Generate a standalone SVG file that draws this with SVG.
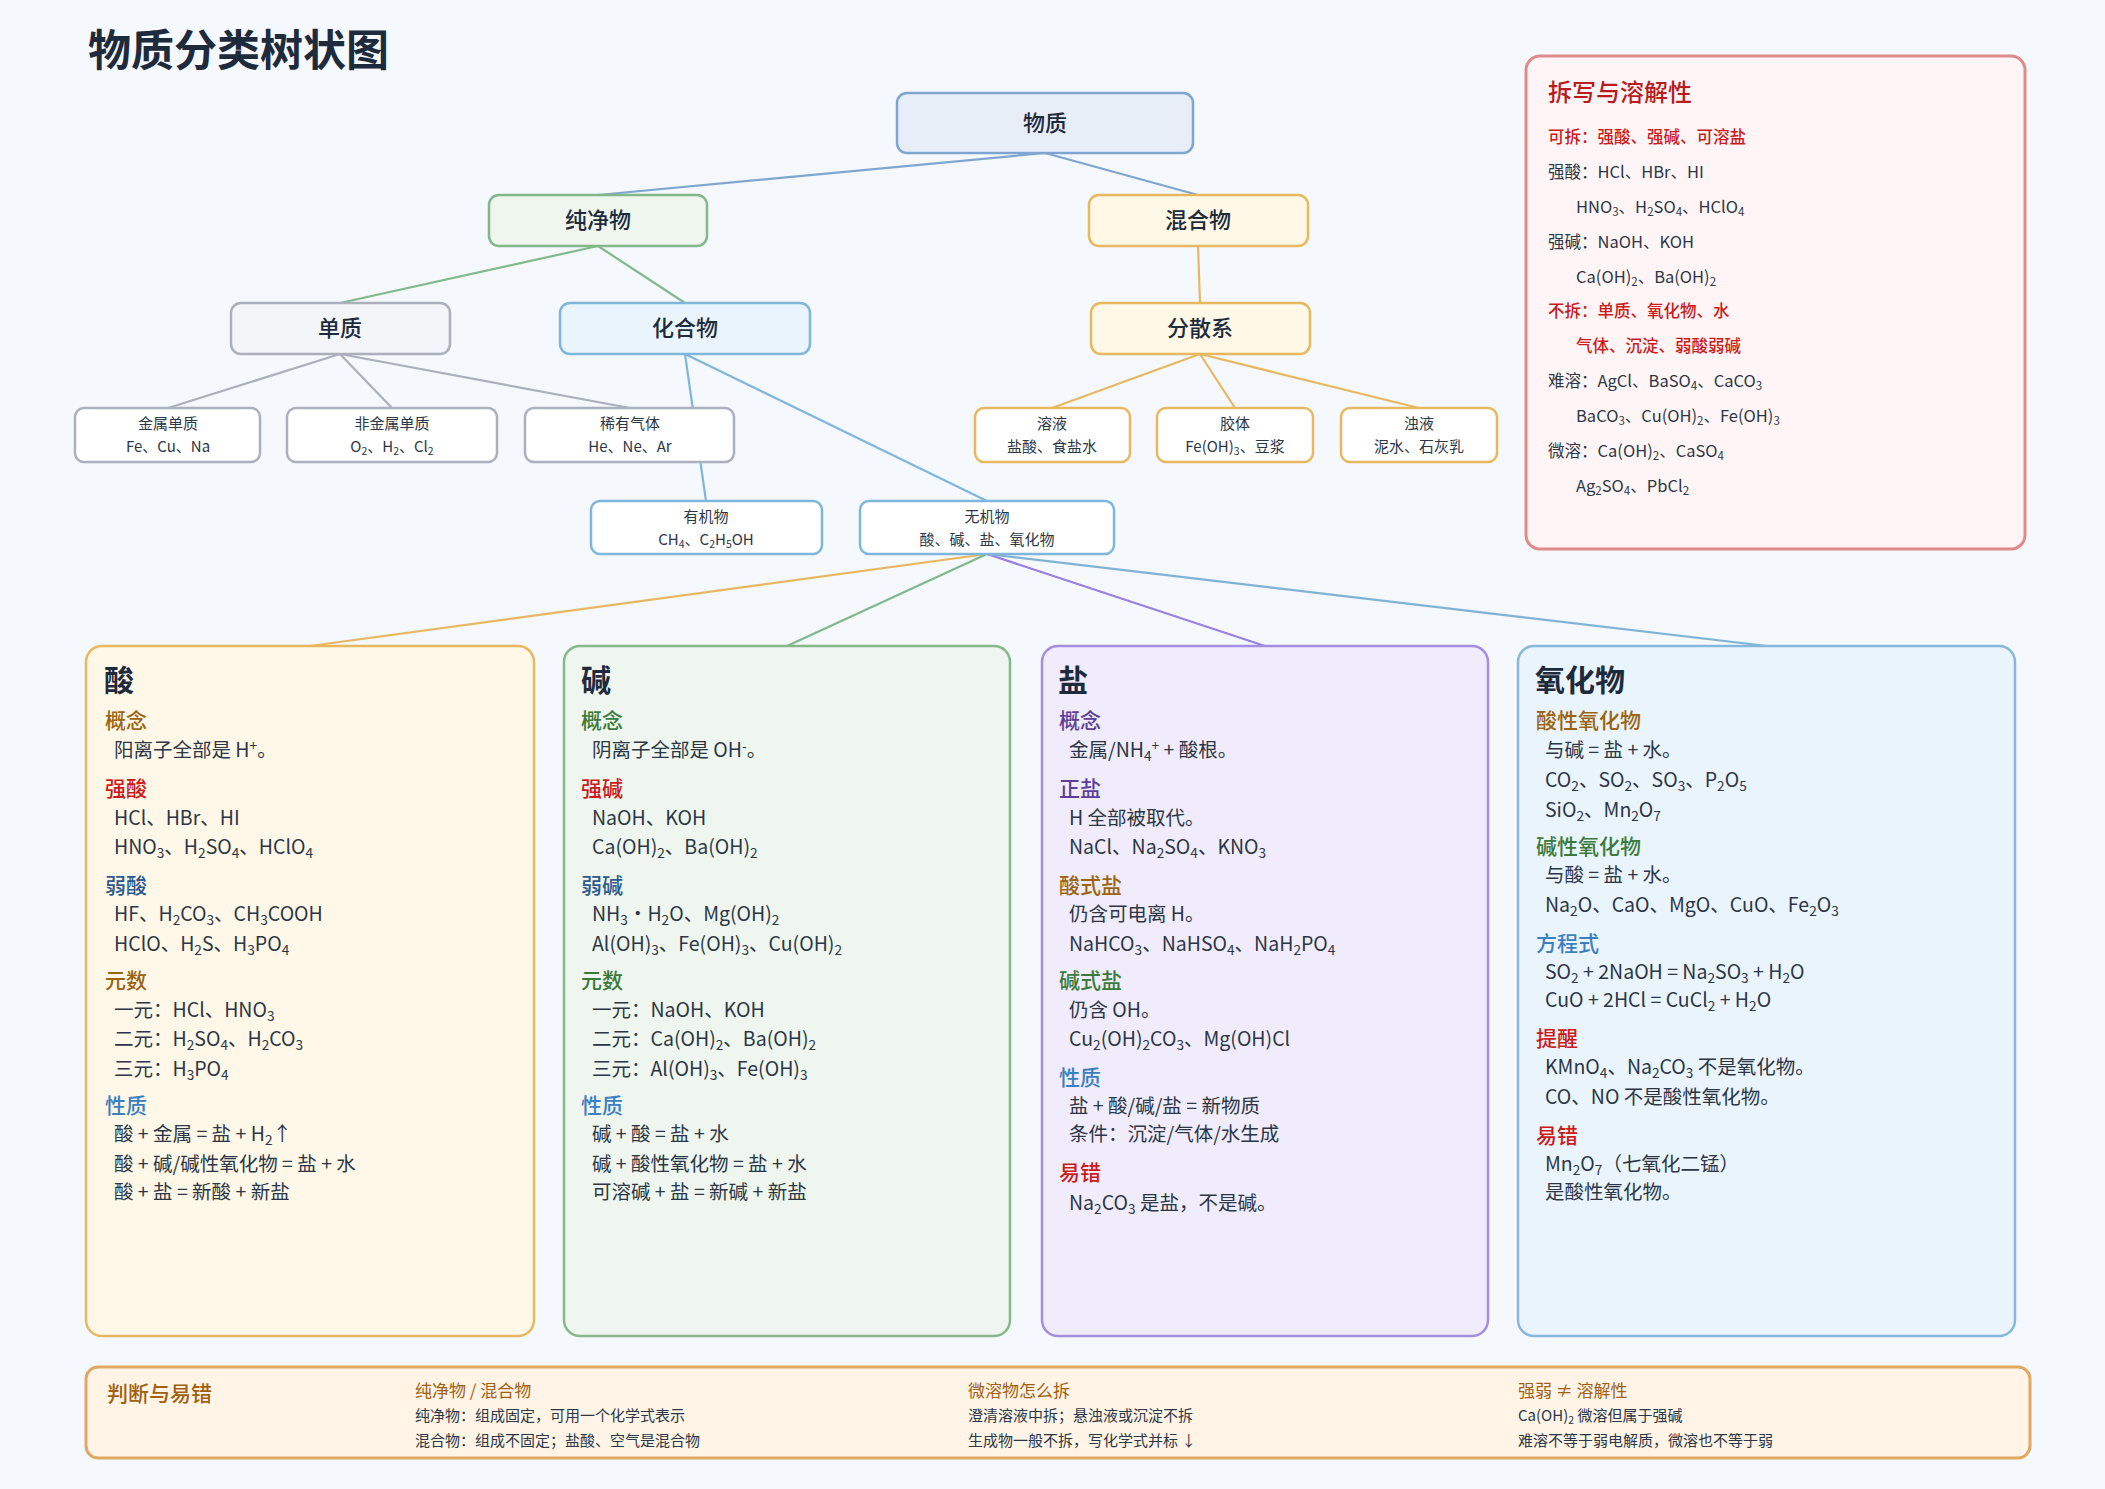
<svg xmlns="http://www.w3.org/2000/svg" width="2105" height="1489" viewBox="0 0 2105 1489">
<style>
text{font-family:"Noto Sans CJK SC","Liberation Sans",sans-serif}
.s{font-size:70%;baseline-shift:-25%}
.u{font-size:70%;baseline-shift:45%}
.nt{font-size:22px;text-anchor:middle;font-weight:500}
.lt{font-size:15px;text-anchor:middle}
.node{stroke-width:2.5}
.edge{fill:none;stroke-width:2.2}
.pt{font-size:30px;font-weight:700}
.h{font-size:21px;font-weight:500}
.b{font-size:19.5px}
.r{font-size:16.5px}
.red{font-weight:500}
.ft{font-size:15px}
.fh{font-size:17px}
</style>
<rect width="2105" height="1489" fill="#f5f8fc"/>
<g fill="#2b3646">
<text x="88" y="66" font-size="43" font-weight="700" fill="#1e2b3c">物质分类树状图</text>

<g id="connectors">
<path class="edge" stroke="#7fa6d0" d="M1045 153L598 195M1045 153L1198 195"/>
<path class="edge" stroke="#82b98a" d="M598 246L340 303M598 246L685 303"/>
<path class="edge" stroke="#e8b860" d="M1198 246L1200 303M1200 354L1052 408M1200 354L1235 408M1200 354L1419 408"/>
<path class="edge" stroke="#aab0bc" d="M340 354L168 408M340 354L392 408M340 354L630 408"/>
<path class="edge" stroke="#7fb6dc" d="M685 354L706 501M685 354L987 501"/>
<path class="edge" stroke="#e8b860" d="M987 554L310 646"/>
<path class="edge" stroke="#7fb88a" d="M987 554L787 646"/>
<path class="edge" stroke="#9a80e0" d="M987 554L1265 646"/>
<path class="edge" stroke="#7fb3d5" d="M987 554L1767 646"/>
</g>

<g id="n-wuzhi"><rect class="node" x="897" y="93" width="296" height="60" rx="10" fill="#e8eef8" stroke="#7fa6d0"/><text class="nt" x="1045" y="131" font-size="24" fill="#1e2b3c">物质</text></g>
<g id="n-chunjing"><rect class="node" x="489" y="195" width="218" height="51" rx="10" fill="#eef6ee" stroke="#82b98a"/><text class="nt" x="598" y="228" fill="#1e2b3c">纯净物</text></g>
<g id="n-hunhe"><rect class="node" x="1089" y="195" width="219" height="51" rx="10" fill="#fff8e6" stroke="#e8b860"/><text class="nt" x="1198" y="228" fill="#1e2b3c">混合物</text></g>
<g id="n-danzhi"><rect class="node" x="231" y="303" width="219" height="51" rx="10" fill="#f4f5f8" stroke="#aab0bc"/><text class="nt" x="340" y="336" fill="#1e2b3c">单质</text></g>
<g id="n-huahe"><rect class="node" x="560" y="303" width="250" height="51" rx="10" fill="#eaf4fc" stroke="#7fb6dc"/><text class="nt" x="685" y="336" fill="#1e2b3c">化合物</text></g>
<g id="n-fensan"><rect class="node" x="1091" y="303" width="219" height="51" rx="10" fill="#fff8e6" stroke="#e8b860"/><text class="nt" x="1200" y="336" fill="#1e2b3c">分散系</text></g>

<g id="n-jinshu"><rect class="node" x="75" y="408" width="185" height="54" rx="9" fill="#fff" stroke="#aab0bc"/><text class="lt" x="168" y="429">金属单质</text><text class="lt" x="168" y="452">Fe、Cu、Na</text></g>
<g id="n-feijinshu"><rect class="node" x="287" y="408" width="210" height="54" rx="9" fill="#fff" stroke="#aab0bc"/><text class="lt" x="392" y="429">非金属单质</text><text class="lt" x="392" y="452">O<tspan class="s">2</tspan>、H<tspan class="s">2</tspan>、Cl<tspan class="s">2</tspan></text></g>
<g id="n-xiyou"><rect class="node" x="525" y="408" width="209" height="54" rx="9" fill="#fff" stroke="#aab0bc"/><text class="lt" x="630" y="429">稀有气体</text><text class="lt" x="630" y="452">He、Ne、Ar</text></g>
<g id="n-rongye"><rect class="node" x="975" y="408" width="155" height="54" rx="9" fill="#fff" stroke="#e8b860"/><text class="lt" x="1052" y="429">溶液</text><text class="lt" x="1052" y="452">盐酸、食盐水</text></g>
<g id="n-jiaoti"><rect class="node" x="1157" y="408" width="156" height="54" rx="9" fill="#fff" stroke="#e8b860"/><text class="lt" x="1235" y="429">胶体</text><text class="lt" x="1235" y="452">Fe(OH)<tspan class="s">3</tspan>、豆浆</text></g>
<g id="n-zhuoye"><rect class="node" x="1341" y="408" width="156" height="54" rx="9" fill="#fff" stroke="#e8b860"/><text class="lt" x="1419" y="429">浊液</text><text class="lt" x="1419" y="452">泥水、石灰乳</text></g>
<g id="n-youji"><rect class="node" x="591" y="501" width="231" height="53" rx="9" fill="#fff" stroke="#7fb6dc"/><text class="lt" x="706" y="522">有机物</text><text class="lt" x="706" y="545">CH<tspan class="s">4</tspan>、C<tspan class="s">2</tspan>H<tspan class="s">5</tspan>OH</text></g>
<g id="n-wuji"><rect class="node" x="860" y="501" width="254" height="53" rx="9" fill="#fff" stroke="#7fb6dc"/><text class="lt" x="987" y="522">无机物</text><text class="lt" x="987" y="545">酸、碱、盐、氧化物</text></g>

<g id="n-chaixie">
<rect x="1526" y="56" width="499" height="493" rx="14" fill="#fff5f6" stroke="#e08a8a" stroke-width="3"/>
<text x="1548" y="101" font-size="24" font-weight="500" fill="#b81c1c">拆写与溶解性</text>
<text class="r red" x="1548" y="143" fill="#cc1a1a">可拆：强酸、强碱、可溶盐</text>
<text class="r" x="1548" y="178">强酸：HCl、HBr、HI</text>
<text class="r" x="1576" y="213">HNO<tspan class="s">3</tspan>、H<tspan class="s">2</tspan>SO<tspan class="s">4</tspan>、HClO<tspan class="s">4</tspan></text>
<text class="r" x="1548" y="248">强碱：NaOH、KOH</text>
<text class="r" x="1576" y="283">Ca(OH)<tspan class="s">2</tspan>、Ba(OH)<tspan class="s">2</tspan></text>
<text class="r red" x="1548" y="317" fill="#cc1a1a">不拆：单质、氧化物、水</text>
<text class="r red" x="1576" y="352" fill="#cc1a1a">气体、沉淀、弱酸弱碱</text>
<text class="r" x="1548" y="387">难溶：AgCl、BaSO<tspan class="s">4</tspan>、CaCO<tspan class="s">3</tspan></text>
<text class="r" x="1576" y="422">BaCO<tspan class="s">3</tspan>、Cu(OH)<tspan class="s">2</tspan>、Fe(OH)<tspan class="s">3</tspan></text>
<text class="r" x="1548" y="457">微溶：Ca(OH)<tspan class="s">2</tspan>、CaSO<tspan class="s">4</tspan></text>
<text class="r" x="1576" y="492">Ag<tspan class="s">2</tspan>SO<tspan class="s">4</tspan>、PbCl<tspan class="s">2</tspan></text>
</g>

<g id="p-suan">
<rect x="86" y="646" width="448" height="690" rx="16" fill="#fff8e8" stroke="#e8b860" stroke-width="2.5"/>
<text class="pt" x="104" y="691" fill="#1e2b3c">酸</text>
<text class="h" x="105" y="728" fill="#9a6410">概念</text>
<text class="b" x="114" y="757">阳离子全部是 H<tspan class="u">+</tspan>。</text>
<text class="h" x="105" y="796" fill="#cc1a1a">强酸</text>
<text class="b" x="114" y="825">HCl、HBr、HI</text>
<text class="b" x="114" y="854">HNO<tspan class="s">3</tspan>、H<tspan class="s">2</tspan>SO<tspan class="s">4</tspan>、HClO<tspan class="s">4</tspan></text>
<text class="h" x="105" y="893" fill="#2c5a8c">弱酸</text>
<text class="b" x="114" y="921">HF、H<tspan class="s">2</tspan>CO<tspan class="s">3</tspan>、CH<tspan class="s">3</tspan>COOH</text>
<text class="b" x="114" y="951">HClO、H<tspan class="s">2</tspan>S、H<tspan class="s">3</tspan>PO<tspan class="s">4</tspan></text>
<text class="h" x="105" y="988" fill="#9a6410">元数</text>
<text class="b" x="114" y="1017">一元：HCl、HNO<tspan class="s">3</tspan></text>
<text class="b" x="114" y="1046">二元：H<tspan class="s">2</tspan>SO<tspan class="s">4</tspan>、H<tspan class="s">2</tspan>CO<tspan class="s">3</tspan></text>
<text class="b" x="114" y="1076">三元：H<tspan class="s">3</tspan>PO<tspan class="s">4</tspan></text>
<text class="h" x="105" y="1113" fill="#3a80c0">性质</text>
<text class="b" x="114" y="1141">酸 + 金属 = 盐 + H<tspan class="s">2</tspan>↑</text>
<text class="b" x="114" y="1171">酸 + 碱/碱性氧化物 = 盐 + 水</text>
<text class="b" x="114" y="1199">酸 + 盐 = 新酸 + 新盐</text>
</g>

<g id="p-jian">
<rect x="564" y="646" width="446" height="690" rx="16" fill="#eef6ef" stroke="#86b88a" stroke-width="2.5"/>
<text class="pt" x="581" y="691" fill="#1e2b3c">碱</text>
<text class="h" x="581" y="728" fill="#3a7a3a">概念</text>
<text class="b" x="592" y="757">阴离子全部是 OH<tspan class="u">-</tspan>。</text>
<text class="h" x="581" y="796" fill="#cc1a1a">强碱</text>
<text class="b" x="592" y="825">NaOH、KOH</text>
<text class="b" x="592" y="854">Ca(OH)<tspan class="s">2</tspan>、Ba(OH)<tspan class="s">2</tspan></text>
<text class="h" x="581" y="893" fill="#2c5a8c">弱碱</text>
<text class="b" x="592" y="921">NH<tspan class="s">3</tspan>·H<tspan class="s">2</tspan>O、Mg(OH)<tspan class="s">2</tspan></text>
<text class="b" x="592" y="951">Al(OH)<tspan class="s">3</tspan>、Fe(OH)<tspan class="s">3</tspan>、Cu(OH)<tspan class="s">2</tspan></text>
<text class="h" x="581" y="988" fill="#3a7a3a">元数</text>
<text class="b" x="592" y="1017">一元：NaOH、KOH</text>
<text class="b" x="592" y="1046">二元：Ca(OH)<tspan class="s">2</tspan>、Ba(OH)<tspan class="s">2</tspan></text>
<text class="b" x="592" y="1076">三元：Al(OH)<tspan class="s">3</tspan>、Fe(OH)<tspan class="s">3</tspan></text>
<text class="h" x="581" y="1113" fill="#3a80c0">性质</text>
<text class="b" x="592" y="1141">碱 + 酸 = 盐 + 水</text>
<text class="b" x="592" y="1171">碱 + 酸性氧化物 = 盐 + 水</text>
<text class="b" x="592" y="1199">可溶碱 + 盐 = 新碱 + 新盐</text>
</g>

<g id="p-yan">
<rect x="1042" y="646" width="446" height="690" rx="16" fill="#f1ecfc" stroke="#a48ee0" stroke-width="2.5"/>
<text class="pt" x="1058" y="691" fill="#1e2b3c">盐</text>
<text class="h" x="1059" y="728" fill="#5a3f99">概念</text>
<text class="b" x="1069" y="757">金属/NH<tspan class="s">4</tspan><tspan class="u">+</tspan> + 酸根。</text>
<text class="h" x="1059" y="796" fill="#5a3f99">正盐</text>
<text class="b" x="1069" y="825">H 全部被取代。</text>
<text class="b" x="1069" y="854">NaCl、Na<tspan class="s">2</tspan>SO<tspan class="s">4</tspan>、KNO<tspan class="s">3</tspan></text>
<text class="h" x="1059" y="893" fill="#9a6410">酸式盐</text>
<text class="b" x="1069" y="921">仍含可电离 H。</text>
<text class="b" x="1069" y="951">NaHCO<tspan class="s">3</tspan>、NaHSO<tspan class="s">4</tspan>、NaH<tspan class="s">2</tspan>PO<tspan class="s">4</tspan></text>
<text class="h" x="1059" y="988" fill="#3a7a3a">碱式盐</text>
<text class="b" x="1069" y="1017">仍含 OH。</text>
<text class="b" x="1069" y="1046">Cu<tspan class="s">2</tspan>(OH)<tspan class="s">2</tspan>CO<tspan class="s">3</tspan>、Mg(OH)Cl</text>
<text class="h" x="1059" y="1085" fill="#3a80c0">性质</text>
<text class="b" x="1069" y="1113">盐 + 酸/碱/盐 = 新物质</text>
<text class="b" x="1069" y="1141">条件：沉淀/气体/水生成</text>
<text class="h" x="1059" y="1180" fill="#cc1a1a">易错</text>
<text class="b" x="1069" y="1210">Na<tspan class="s">2</tspan>CO<tspan class="s">3</tspan> 是盐，不是碱。</text>
</g>

<g id="p-yanghua">
<rect x="1518" y="646" width="497" height="690" rx="16" fill="#eaf4fc" stroke="#86b8dc" stroke-width="2.5"/>
<text class="pt" x="1535" y="691" fill="#1e2b3c">氧化物</text>
<text class="h" x="1536" y="728" fill="#9a6410">酸性氧化物</text>
<text class="b" x="1545" y="757">与碱 = 盐 + 水。</text>
<text class="b" x="1545" y="787">CO<tspan class="s">2</tspan>、SO<tspan class="s">2</tspan>、SO<tspan class="s">3</tspan>、P<tspan class="s">2</tspan>O<tspan class="s">5</tspan></text>
<text class="b" x="1545" y="817">SiO<tspan class="s">2</tspan>、Mn<tspan class="s">2</tspan>O<tspan class="s">7</tspan></text>
<text class="h" x="1536" y="854" fill="#3a7a3a">碱性氧化物</text>
<text class="b" x="1545" y="882">与酸 = 盐 + 水。</text>
<text class="b" x="1545" y="912">Na<tspan class="s">2</tspan>O、CaO、MgO、CuO、Fe<tspan class="s">2</tspan>O<tspan class="s">3</tspan></text>
<text class="h" x="1536" y="951" fill="#3a80c0">方程式</text>
<text class="b" x="1545" y="979">SO<tspan class="s">2</tspan> + 2NaOH = Na<tspan class="s">2</tspan>SO<tspan class="s">3</tspan> + H<tspan class="s">2</tspan>O</text>
<text class="b" x="1545" y="1007">CuO + 2HCl = CuCl<tspan class="s">2</tspan> + H<tspan class="s">2</tspan>O</text>
<text class="h" x="1536" y="1046" fill="#cc1a1a">提醒</text>
<text class="b" x="1545" y="1074">KMnO<tspan class="s">4</tspan>、Na<tspan class="s">2</tspan>CO<tspan class="s">3</tspan> 不是氧化物。</text>
<text class="b" x="1545" y="1104">CO、NO 不是酸性氧化物。</text>
<text class="h" x="1536" y="1143" fill="#cc1a1a">易错</text>
<text class="b" x="1545" y="1171">Mn<tspan class="s">2</tspan>O<tspan class="s">7</tspan>（七氧化二锰）</text>
<text class="b" x="1545" y="1199">是酸性氧化物。</text>
</g>

<g id="n-panduan">
<rect x="86" y="1367" width="1944" height="91" rx="12" fill="#fff4e6" stroke="#e0a860" stroke-width="3"/>
<text x="107" y="1401" font-size="21" font-weight="500" fill="#a0600f">判断与易错</text>
<text class="fh" x="415" y="1397" fill="#a0600f">纯净物 / 混合物</text>
<text class="ft" x="415" y="1421">纯净物：组成固定，可用一个化学式表示</text>
<text class="ft" x="415" y="1446">混合物：组成不固定；盐酸、空气是混合物</text>
<text class="fh" x="968" y="1397" fill="#a0600f">微溶物怎么拆</text>
<text class="ft" x="968" y="1421">澄清溶液中拆；悬浊液或沉淀不拆</text>
<text class="ft" x="968" y="1446">生成物一般不拆，写化学式并标 ↓</text>
<text class="fh" x="1518" y="1397" fill="#a0600f">强弱 ≠ 溶解性</text>
<text class="ft" x="1518" y="1421">Ca(OH)<tspan class="s">2</tspan> 微溶但属于强碱</text>
<text class="ft" x="1518" y="1446">难溶不等于弱电解质，微溶也不等于弱</text>
</g>
</g>
</svg>
